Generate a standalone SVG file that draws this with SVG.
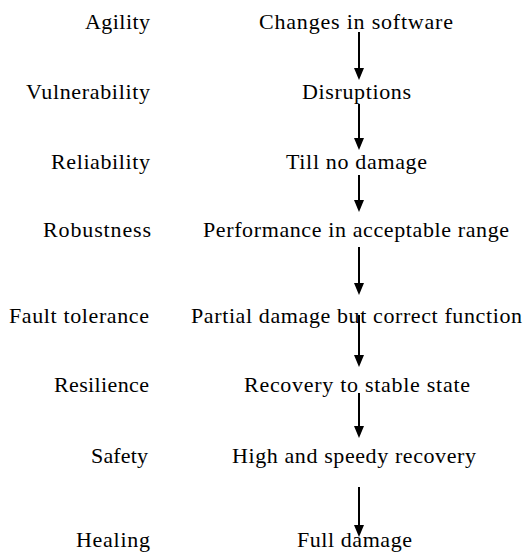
<svg xmlns="http://www.w3.org/2000/svg" width="531" height="553" viewBox="0 0 531 553" font-family="Liberation Serif, Times New Roman, serif">
<style>
text{font-family:'Liberation Serif','Times New Roman',serif;font-size:22px;fill:#000}
.l{text-anchor:end}
.c{stroke:#000;stroke-width:2;fill:none}
</style>
<defs>
<marker id="ah" viewBox="0 0 12 10" refX="4" refY="5" markerWidth="12" markerHeight="10" orient="auto" markerUnits="userSpaceOnUse">
<path d="M0,0L12,5L0,10z" fill="#000"/>
</marker>
</defs>
<rect width="531" height="553" fill="#fff"/>
<g id="labels">
<text class="l" x="150" y="29" textLength="65" lengthAdjust="spacing">Agility</text>
<text class="l" x="150" y="99" textLength="124" lengthAdjust="spacing">Vulnerability</text>
<text class="l" x="150" y="169" textLength="99" lengthAdjust="spacing">Reliability</text>
<text class="l" x="151" y="237" textLength="108" lengthAdjust="spacing">Robustness</text>
<text class="l" x="149" y="323" textLength="140" lengthAdjust="spacing">Fault tolerance</text>
<text class="l" x="149" y="392" textLength="95" lengthAdjust="spacing">Resilience</text>
<text class="l" x="148" y="463" textLength="57" lengthAdjust="spacing">Safety</text>
<text class="l" x="150" y="547" textLength="74" lengthAdjust="spacing">Healing</text>
</g>
<g id="n1"><text x="259" y="29" textLength="194" lengthAdjust="spacing">Changes in software</text></g>
<g id="n2"><text x="302" y="99" textLength="109" lengthAdjust="spacing">Disruptions</text></g>
<g id="n3"><text x="286" y="169" textLength="141" lengthAdjust="spacing">Till no damage</text></g>
<g id="n4"><text x="203" y="237" textLength="306" lengthAdjust="spacing">Performance in acceptable range</text></g>
<g id="n5"><text x="191" y="323" textLength="331" lengthAdjust="spacing">Partial damage but correct function</text></g>
<g id="n6"><text x="244" y="392" textLength="226" lengthAdjust="spacing">Recovery to stable state</text></g>
<g id="n7"><text x="232" y="463" textLength="244" lengthAdjust="spacing">High and speedy recovery</text></g>
<g id="n8"><text x="297" y="547" textLength="115" lengthAdjust="spacing">Full damage</text></g>
<g id="connectors">
<line class="c" x1="359" y1="32" x2="359" y2="72" marker-end="url(#ah)"/>
<line class="c" x1="359" y1="104" x2="359" y2="142" marker-end="url(#ah)"/>
<line class="c" x1="359" y1="175" x2="359" y2="204" marker-end="url(#ah)"/>
<line class="c" x1="359" y1="247" x2="359" y2="287" marker-end="url(#ah)"/>
<line class="c" x1="359" y1="315" x2="359" y2="359" marker-end="url(#ah)"/>
<line class="c" x1="359" y1="393" x2="359" y2="430" marker-end="url(#ah)"/>
<line class="c" x1="359" y1="487" x2="359" y2="529" marker-end="url(#ah)"/>
</g>
</svg>
